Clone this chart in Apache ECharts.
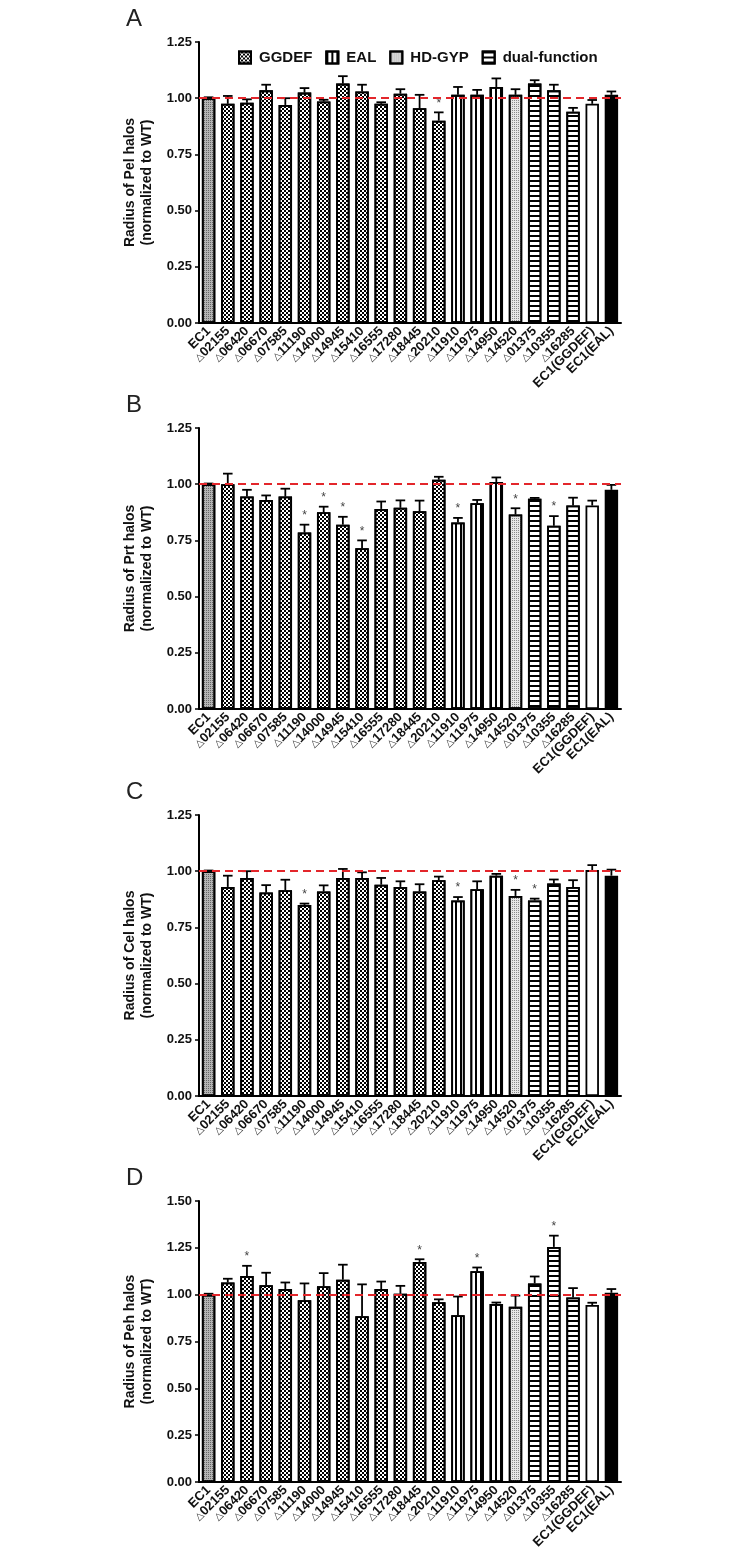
<!DOCTYPE html>
<html><head><meta charset="utf-8">
<script src="https://cdn.jsdelivr.net/npm/echarts@6/dist/echarts.min.js"></script>
<style>html,body{margin:0;padding:0;background:#fff}#c{width:736px;height:1566px}</style>
</head><body><div id="c"></div>
<script>
// ---------- data ----------
const categories = ['EC1','△02155','△06420','△06670','△07585','△11190','△14000','△14945','△15410','△16555','△17280','△18445','△20210','△11910','△11975','△14950','△14520','△01375','△10355','△16285','EC1(GGDEF)','EC1(EAL)'];
const groups = ['wt','GGDEF','GGDEF','GGDEF','GGDEF','GGDEF','GGDEF','GGDEF','GGDEF','GGDEF','GGDEF','GGDEF','GGDEF','EAL','EAL','EAL','HD-GYP','dual-function','dual-function','dual-function','ggdefCtrl','ealCtrl'];
const legendNames = ['GGDEF','EAL','HD-GYP','dual-function'];

const pelMean = [1.00,0.975,0.98,1.035,0.97,1.025,0.985,1.065,1.03,0.975,1.02,0.955,0.90,1.015,1.015,1.05,1.015,1.065,1.035,0.94,0.975,1.015];
const pelErr  = [0.004,0.035,0.015,0.025,0.03,0.02,0.008,0.033,0.03,0.007,0.02,0.06,0.037,0.035,0.022,0.038,0.025,0.015,0.025,0.017,0.017,0.015];
const pelSig  = [12];

const prtMean = [1.00,1.00,0.945,0.93,0.945,0.785,0.875,0.82,0.715,0.89,0.895,0.88,1.02,0.83,0.915,1.01,0.865,0.935,0.815,0.905,0.905,0.975];
const prtErr  = [0.003,0.047,0.03,0.02,0.035,0.035,0.025,0.035,0.035,0.033,0.033,0.047,0.013,0.02,0.015,0.02,0.028,0.004,0.043,0.035,0.022,0.022];
const prtSig  = [5,6,7,8,13,16,18];

const celMean = [1.00,0.93,0.97,0.905,0.915,0.85,0.91,0.97,0.97,0.94,0.93,0.91,0.96,0.87,0.92,0.98,0.89,0.87,0.945,0.93,1.005,0.98];
const celErr  = [0.003,0.05,0.03,0.033,0.047,0.006,0.027,0.04,0.025,0.03,0.025,0.032,0.016,0.015,0.035,0.008,0.027,0.008,0.018,0.03,0.022,0.027];
const celSig  = [5,13,16,17];

const pehMean = [1.00,1.065,1.10,1.05,1.03,0.97,1.045,1.08,0.885,1.03,1.005,1.175,0.96,0.89,1.125,0.95,0.935,1.06,1.255,0.985,0.945,1.01];
const pehErr  = [0.005,0.02,0.054,0.067,0.035,0.09,0.07,0.08,0.17,0.04,0.042,0.014,0.015,0.10,0.02,0.008,0.06,0.037,0.06,0.05,0.012,0.02];
const pehSig  = [2,11,14,18];

const panels = [
  {letter:'A', name:'Radius of Pel halos\n(normalized to WT)', mean:pelMean, err:pelErr, sig:pelSig, max:1.25},
  {letter:'B', name:'Radius of Prt halos\n(normalized to WT)', mean:prtMean, err:prtErr, sig:prtSig, max:1.25},
  {letter:'C', name:'Radius of Cel halos\n(normalized to WT)', mean:celMean, err:celErr, sig:celSig, max:1.25},
  {letter:'D', name:'Radius of Peh halos\n(normalized to WT)', mean:pehMean, err:pehErr, sig:pehSig, max:1.5}
];

// ---------- styles ----------
const FONT = '"Liberation Sans", Arial, Helvetica, sans-serif';
const decals = {
  GGDEF: {symbol:'rect', symbolSize:1, color:'#000', dashArrayX:[[2,2],[0,2,2,0]], dashArrayY:[2,0], rotation:0},
  EAL: {symbol:'rect', symbolSize:1, color:'#000', dashArrayX:[1.5,3], dashArrayY:[4,0], rotation:0},
  'HD-GYP': {symbol:'rect', symbolSize:1, color:'#8a8a8a', dashArrayX:[1,1], dashArrayY:[1,1], rotation:0},
  'dual-function': {symbol:'rect', symbolSize:1, color:'#000', dashArrayX:[4,0], dashArrayY:[1.1,2.3], rotation:0},
  wt: {symbol:'rect', symbolSize:1, color:'#666', dashArrayX:[1,1], dashArrayY:[1,1], rotation:0}
};
function styleFor(g){
  if (g === 'ealCtrl') return {color:'#000'};
  if (g === 'ggdefCtrl') return {color:'#fff'};
  if (g === 'wt') return {color:'#b4b4b4', decal:decals.wt};
  if (g === 'HD-GYP') return {color:'#e6e6e6', decal:decals['HD-GYP']};
  return {color:'#fff', decal:decals[g]};
}

const tops = [42, 428, 815, 1201];
const grids = [], xAxes = [], yAxes = [], series = [], titles = [];
panels.forEach((p, i) => {
  grids.push({left:199, width:422, top:tops[i], height:281, containLabel:false});
  titles.push({text:p.letter, left:121, top:tops[i]-40, textStyle:{fontSize:24, fontWeight:'normal', color:'#222', fontFamily:FONT}});
  xAxes.push({
    gridIndex:i, type:'category', data:categories,
    axisLine:{lineStyle:{color:'#000', width:2}},
    axisTick:{alignWithLabel:true, length:4, lineStyle:{color:'#000', width:1.5}},
    axisLabel:{rotate:45, interval:0, margin:6, fontSize:13, fontWeight:'bold', color:'#111', fontFamily:FONT,
      formatter: v => v.replace('△', '{t|△}'),
      rich:{t:{fontSize:10, fontWeight:'normal', color:'#333', fontFamily:'DejaVu Sans'}}}
  });
  yAxes.push({
    gridIndex:i, type:'value', min:0, max:p.max, interval:0.25,
    axisLine:{show:true, lineStyle:{color:'#000', width:2}},
    axisTick:{show:true, length:4, lineStyle:{color:'#000', width:1.5}},
    splitLine:{show:false},
    axisLabel:{formatter: v => v.toFixed(2), fontSize:13, fontWeight:'bold', color:'#111', margin:7, fontFamily:FONT},
    name:p.name, nameLocation:'middle', nameGap:31,
    nameTextStyle:{fontSize:14, fontWeight:'bold', lineHeight:17, color:'#111', fontFamily:FONT}
  });
  series.push({
    type:'bar', name:'panel'+p.letter, xAxisIndex:i, yAxisIndex:i, barWidth:'70%',
    itemStyle:{borderColor:'#000', borderWidth:1.8},
    data:p.mean.map((v, j) => ({value:v, itemStyle:styleFor(groups[j])})),
    markLine:{silent:true, symbol:'none', label:{show:false}, z:10,
      lineStyle:{color:'#e3262b', type:[8,5], width:2.2}, data:[{yAxis:1}]},
    z:2
  });
  series.push({
    type:'custom', name:'err'+p.letter, xAxisIndex:i, yAxisIndex:i, z:5,
    data:p.mean.map((v, j) => [j, v, p.err[j], p.sig.includes(j) ? 1 : 0]),
    renderItem:(params, api) => {
      const x = api.value(0), v = api.value(1), e = api.value(2), s = api.value(3);
      const p0 = api.coord([x, v]), p1 = api.coord([x, v + e]);
      const w = api.size([1, 0])[0] * 0.25;
      const ch = [
        {type:'line', shape:{x1:p0[0], y1:p0[1], x2:p1[0], y2:p1[1]}, style:{stroke:'#000', lineWidth:1.8}},
        {type:'line', shape:{x1:p1[0]-w, y1:p1[1], x2:p1[0]+w, y2:p1[1]}, style:{stroke:'#000', lineWidth:1.8}}
      ];
      if (s) ch.push({type:'text', style:{text:'*', x:p1[0], y:p1[1]-9, align:'center', verticalAlign:'middle', textAlign:'center', textVerticalAlign:'middle', fontSize:12, fill:'#444', fontFamily:FONT}});
      return {type:'group', children:ch};
    }
  });
});
// hidden grid holding legend-only series
grids.push({left:0, top:0, width:1, height:1, show:false});
xAxes.push({gridIndex:4, type:'category', show:false, data:['x']});
yAxes.push({gridIndex:4, type:'value', show:false});
legendNames.forEach(n => {
  series.push({type:'bar', name:n, xAxisIndex:4, yAxisIndex:4, data:[],
    itemStyle:Object.assign({borderColor:'#000', borderWidth:1.5}, styleFor(n))});
});

const chart = echarts.init(document.getElementById('c'), null, {renderer:'canvas'});
chart.setOption({
  backgroundColor:'#fff',
  animation:false,
  title:titles,
  legend:{data:legendNames, left:233, top:45, icon:'rect', itemWidth:12, itemHeight:12, itemGap:13,
    textStyle:{fontSize:15, fontWeight:'bold', color:'#111', fontFamily:FONT, padding:[0,0,0,3]}},
  grid:grids, xAxis:xAxes, yAxis:yAxes, series:series
});
</script>
</body></html>
